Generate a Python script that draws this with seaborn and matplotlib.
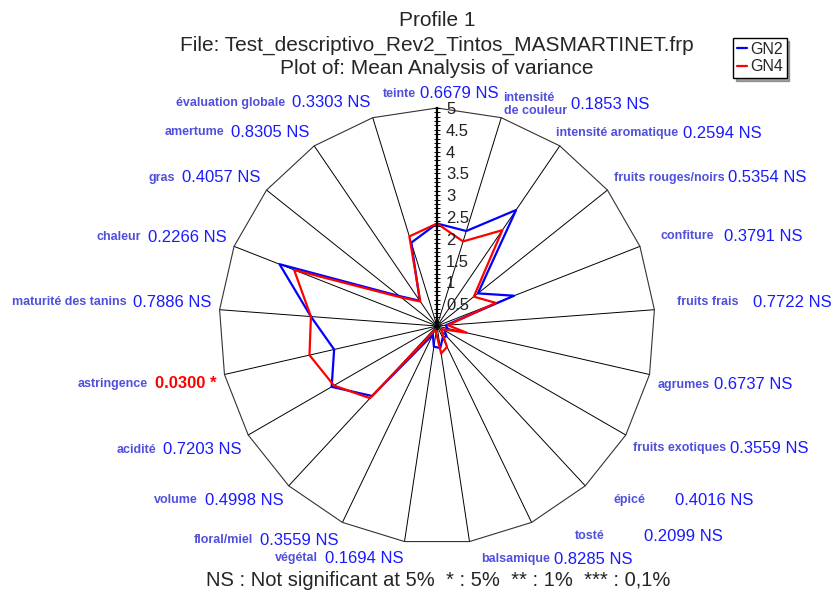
import numpy as np
import pandas as pd
import matplotlib.pyplot as plt
import seaborn as sns
from matplotlib.lines import Line2D
from matplotlib.ticker import FuncFormatter

# descripteurs (sens horaire depuis le haut)
attributes = ["teinte", "intensité\nde couleur", "intensité aromatique", "fruits rouges/noirs",
              "confiture", "fruits frais", "agrumes", "fruits exotiques", "épicé", "tosté",
              "balsamique", "végétal", "floral/miel", "volume", "acidité", "astringence",
              "maturité des tanins", "chaleur", "gras", "amertume", "évaluation globale"]
p_values = [0.6679, 0.1853, 0.2594, 0.5354, 0.3791, 0.7722, 0.6737, 0.3559, 0.4016, 0.2099,
            0.8285, 0.1694, 0.3559, 0.4998, 0.7203, 0.0300, 0.7886, 0.2266, 0.4057, 0.8305, 0.3303]
significance = ["NS", "NS", "NS", "NS", "NS", "NS", "NS", "NS", "NS", "NS",
                "NS", "NS", "NS", "NS", "NS", "*", "NS", "NS", "NS", "NS", "NS"]

# moyennes par produit
gn2 = [2.35, 2.28, 3.22, 1.20, 1.90, 0.20, 0.25, 0.20, 0.32, 0.30, 0.51,
       0.48, 0.22, 2.19, 2.79, 2.42, 2.90, 3.88, 1.10, 0.70, 2.00]
gn4 = [2.35, 2.03, 2.66, 1.08, 1.45, 0.25, 0.70, 0.15, 0.15, 0.53, 0.64,
       0.15, 0.10, 2.26, 2.73, 3.00, 2.90, 3.52, 1.05, 0.68, 2.15]
products = ["GN2", "GN4"]
colors = {"GN2": "#0000ff", "GN4": "#ff0000"}

sns.set_style("white")
plt.rcParams["font.family"] = ["Liberation Sans", "DejaVu Sans"]

n = len(attributes)
angles = np.linspace(0, 2 * np.pi, n, endpoint=False)
closed = np.append(angles, 2 * np.pi)

rows = []
for prod, vals in zip(products, [gn2, gn4]):
    for a, v in zip(closed, vals + vals[:1]):
        rows.append({"angle": a, "moyenne": v, "produit": prod})
df = pd.DataFrame(rows)

W, H = 834, 591
cx, cy, R = 437, 326, 218   # centre et rayon en pixels

fig = plt.figure(figsize=(W / 100, H / 100), dpi=100)

# =========================
# RADAR
# =========================
ax = fig.add_axes([(cx - R) / W, (H - cy - R) / H, 2 * R / W, 2 * R / H], projection="polar")
ax.set_theta_zero_location("N")
ax.set_theta_direction(-1)
ax.grid(False)
ax.spines["polar"].set_visible(False)
ax.patch.set_alpha(0)

for a in angles:
    ax.plot([a, a], [0, 5], color="black", lw=0.7, clip_on=False)
ax.plot(closed, [5] * (n + 1), color="#333333", lw=0.8, clip_on=False)

sns.lineplot(data=df, x="angle", y="moyenne", hue="produit", palette=colors,
             sort=False, estimator=None, lw=1.6, legend=False, ax=ax)
for line in ax.lines:
    line.set_clip_on(False)

ax.set_ylim(0, 5)
ax.set_xticks([])
ax.set_yticks([])
ax.set_xlabel("")
ax.set_ylabel("")

# axe gradue vertical
ax2 = fig.add_axes([cx / W, (H - cy) / H, 1e-4, R / H])
ax2.set_ylim(0, 5)
ax2.set_xticks([])
ax2.set_yticks(np.arange(0.5, 5.01, 0.5))
ax2.set_yticks(np.arange(0, 5.01, 0.1), minor=True)
ax2.yaxis.set_major_formatter(FuncFormatter(lambda v, p: f"{v:g}"))
for s in ["top", "bottom", "right"]:
    ax2.spines[s].set_visible(False)
ax2.spines["left"].set_linewidth(1.6)
ax2.spines["left"].set_color("black")
ax2.patch.set_alpha(0)
ax2.tick_params(axis="y", which="both", left=True, right=True, labelleft=False,
                labelright=True, direction="out", length=2.5, width=0.7, color="black")
ax2.tick_params(axis="y", which="major", labelsize=12, pad=4, labelcolor="#222222")

# =========================
# ETIQUETTES
# =========================
# petits decalages (pixels) pour coller a la mise en page d'origine
nudge_x = [0, 0, -8, 0, 13, 15, 0, 0, 23, 40, 10, 0, 0, 0, 0, 0, 0, 0, 0, 0, 0]
nudge_y = [6, 6, 4, 0, -3, -6, 6, 3, 0, -4, -2, -3, 0, 0, 5, 5, -6, -2, 0, 3, 4]
gap = [3, 3, 3, 3, 7, 10, 3, 3, 21, 28, 3, 5, 5, 5, 5, 5, 5, 5, 5, 5, 5]

name_style = dict(fontsize=9, fontweight="bold", color="#5050dd", va="center")
Rx, Ry = 226, 238
for i, a in enumerate(angles):
    x = (cx + Rx * np.sin(a) + nudge_x[i]) / W
    y = (H - cy + Ry * np.cos(a) - nudge_y[i]) / H
    val = f"{p_values[i]:.4f} {significance[i]}"
    if significance[i] == "NS":
        val_style = dict(fontsize=12, color="#1a1aff", va="center")
    else:
        val_style = dict(fontsize=12, color="#ff0000", fontweight="bold", va="center")
    if i == 0:
        vt = fig.text((cx - 17) / W, y, val, ha="left", **val_style)
        ax.annotate(attributes[i], xy=(0, 0.5), xycoords=vt, xytext=(-3, 0),
                    textcoords="offset points", ha="right", annotation_clip=False, **name_style)
    elif a < np.pi:
        nt = fig.text(x, y, attributes[i], ha="left", **name_style)
        ax.annotate(val, xy=(1, 0.5), xycoords=nt, xytext=(gap[i], 0),
                    textcoords="offset points", ha="left", annotation_clip=False, **val_style)
    else:
        vt = fig.text(x, y, val, ha="right", **val_style)
        ax.annotate(attributes[i], xy=(0, 0.5), xycoords=vt, xytext=(-gap[i], 0),
                    textcoords="offset points", ha="right", annotation_clip=False, **name_style)

# titres
fig.text(cx / W, 1 - 20 / H, "Profile 1", ha="center", va="center", fontsize=15)
fig.text(cx / W, 1 - 45 / H, "File: Test_descriptivo_Rev2_Tintos_MASMARTINET.frp",
         ha="center", va="center", fontsize=15)
fig.text(cx / W, 1 - 68 / H, "Plot of: Mean Analysis of variance", ha="center", va="center", fontsize=15)
fig.text(438 / W, 1 - 581 / H, "NS : Not significant at 5%  * : 5%  ** : 1%  *** : 0,1%",
         ha="center", va="center", fontsize=14.5)

handles = [Line2D([], [], color=colors[p], lw=1.6) for p in products]
leg = fig.legend(handles, products, loc="upper left", bbox_to_anchor=(733 / W, 1 - 38 / H),
                 handlelength=0.6, handletextpad=0.2, borderpad=0.25, labelspacing=0.15,
                 fancybox=False, shadow=True, frameon=True, fontsize=11.5, borderaxespad=0)
leg.get_frame().set_edgecolor("black")
leg.get_frame().set_linewidth(1.0)

plt.savefig("out.png", dpi=100)
